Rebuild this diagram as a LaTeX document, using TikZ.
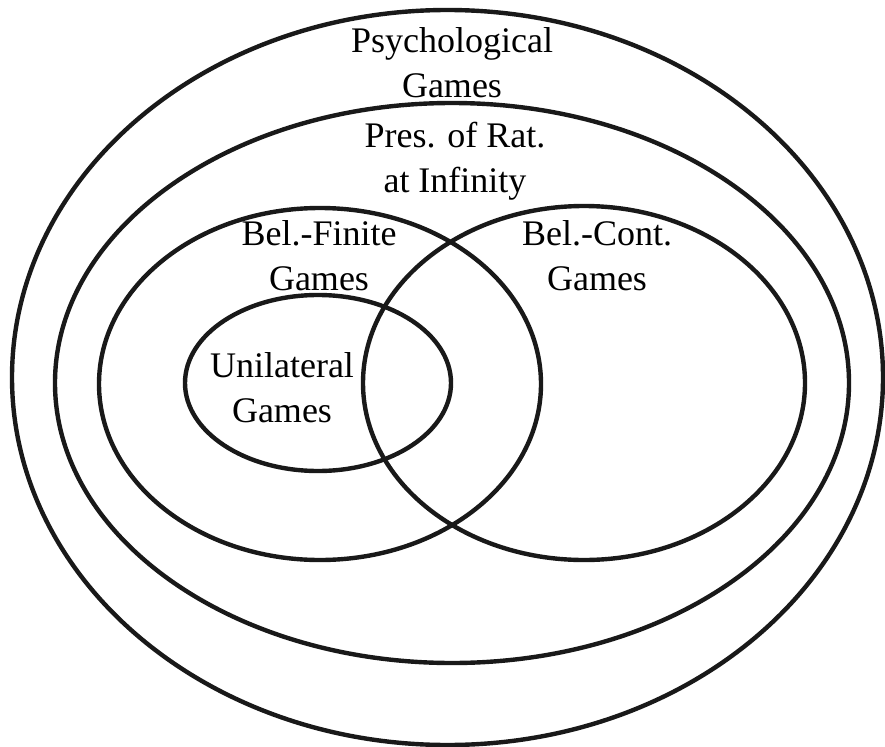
\documentclass[tikz,border=0pt]{standalone}
\usepackage{fontspec}
\setmainfont{Liberation Serif}
\begin{document}
\begin{tikzpicture}[
        x=1pt, y=-1pt,
        set/.style={line width=4.4pt, black!90},
        setlabel/.style={align=center, inner sep=0pt, font=\fontsize{36}{45}\selectfont}
    ]
        \useasboundingbox (0,0) rectangle (885,746);

        % Sets
        \draw[set] (447.5,377.5) ellipse [x radius=435.5, y radius=367.5];
        \draw[set] (452,383) ellipse [x radius=397, y radius=280];
        \draw[set] (320,384) ellipse [x radius=221, y radius=176];
        \draw[set] (584,383) ellipse [x radius=221, y radius=177];
        \draw[set] (318,383) ellipse [x radius=133, y radius=88];

        % Labels
        \node[setlabel] (psych) at (452,63) {Psychological\\Games};
        \node[setlabel] (prat) at (455,161) {Pres. of Rat.\\at Infinity};
        \node[setlabel] (belfin) at (319,256) {Bel.-Finite\\Games};
        \node[setlabel] (belcont) at (597,256) {Bel.-Cont.\\Games};
        \node[setlabel] (unilat) at (282,388) {Unilateral\\Games};
    \end{tikzpicture}
\end{document}
